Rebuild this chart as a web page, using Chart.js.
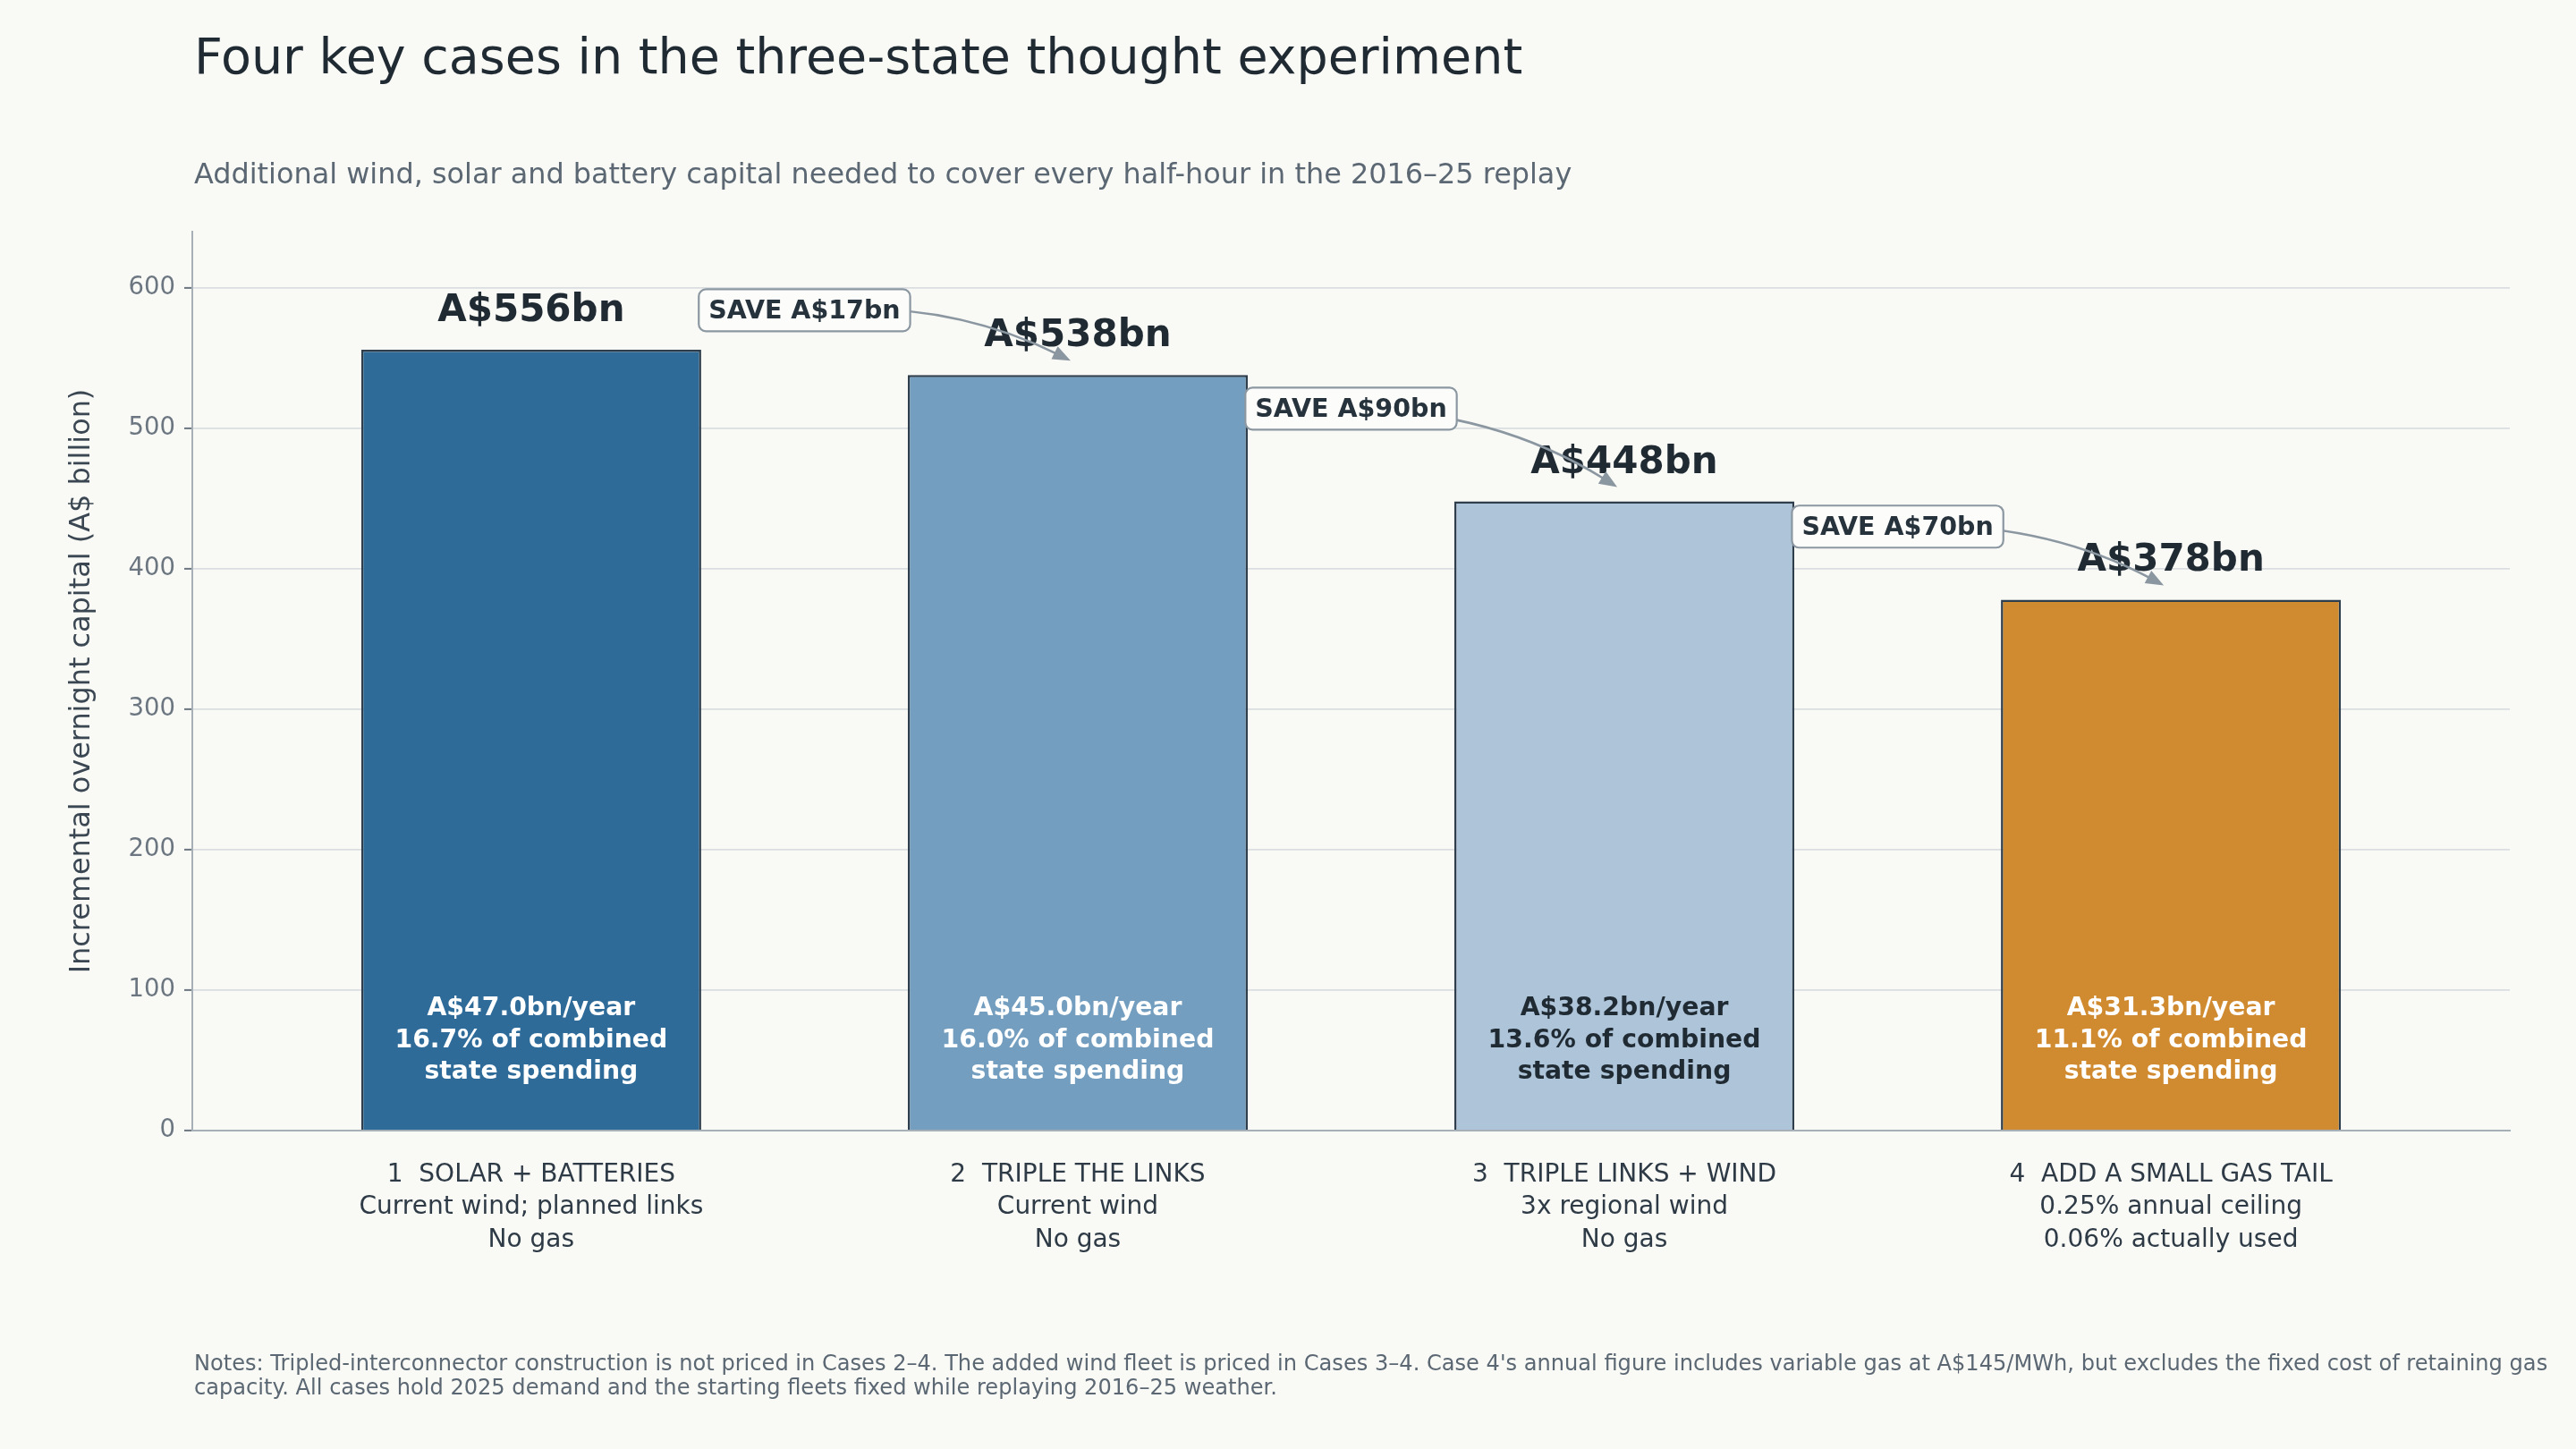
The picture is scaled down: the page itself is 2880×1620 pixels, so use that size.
<!DOCTYPE html>
<html>
<head>
<meta charset="utf-8">
<title>Four key cases in the three-state thought experiment</title>
<script src="https://cdn.jsdelivr.net/npm/chart.js@4.4.1/dist/chart.umd.min.js"></script>
<style>
  html, body { margin: 0; padding: 0; background: #f9f9f5; }
  #wrap { width: 2880px; height: 1620px; }
</style>
</head>
<body>
<div id="wrap"><canvas id="chart" width="2880" height="1620"></canvas></div>
<script>
// Data
const caseNames = ['1  SOLAR + BATTERIES', '2  TRIPLE THE LINKS', '3  TRIPLE LINKS + WIND', '4  ADD A SMALL GAS TAIL'];
const caseLine2 = ['Current wind; planned links', 'Current wind', '3x regional wind', '0.25% annual ceiling'];
const caseLine3 = ['No gas', 'No gas', 'No gas', '0.06% actually used'];
const capitalBn = [556, 538, 448, 378];
const annualBn = ['47.0', '45.0', '38.2', '31.3'];
const spendSharePct = ['16.7', '16.0', '13.6', '11.1'];
const savingsBn = [17, 90, 70];

const TITLE = 'Four key cases in the three-state thought experiment';
const SUBTITLE = 'Additional wind, solar and battery capital needed to cover every half-hour in the 2016\u201325 replay';
const NOTES = [
    'Notes: Tripled-interconnector construction is not priced in Cases 2\u20134. The added wind fleet is priced in Cases 3\u20134. Case 4\'s annual figure includes variable gas at A$145/MWh, but excludes the fixed cost of retaining gas',
    'capacity. All cases hold 2025 demand and the starting fleets fixed while replaying 2016\u201325 weather.'
];

// Styles
const FONT = '"DejaVu Sans", "Liberation Sans", sans-serif';
const barColors = ['#2e6b99', '#739ebf', '#aec4d9', '#d08a2f'];
const insideColors = ['#ffffff', '#ffffff', '#1f2a33', '#ffffff'];
const saveLabelY = [584, 514, 430];   // data-space height of the "SAVE" boxes

function drawArrow(ctx, x0, y0, x1, y1, rad) {
    const dx = x1 - x0, dy = y1 - y0;
    const cx = (x0 + x1) / 2 + rad * dy;
    const cy = (y0 + y1) / 2 - rad * dx;
    let tx = x1 - cx, ty = y1 - cy;
    const len = Math.hypot(tx, ty);
    tx /= len; ty /= len;
    const headLen = 20, headW = 8;
    const bx = x1 - tx * headLen * 0.8, by = y1 - ty * headLen * 0.8;
    ctx.save();
    ctx.strokeStyle = '#8a96a0';
    ctx.fillStyle = '#8a96a0';
    ctx.lineWidth = 2.6;
    ctx.beginPath();
    ctx.moveTo(x0, y0);
    ctx.quadraticCurveTo(cx, cy, bx, by);
    ctx.stroke();
    const hx = x1 - tx * headLen, hy = y1 - ty * headLen;
    ctx.beginPath();
    ctx.moveTo(x1, y1);
    ctx.lineTo(hx - ty * headW, hy + tx * headW);
    ctx.lineTo(hx + ty * headW, hy - tx * headW);
    ctx.closePath();
    ctx.fill();
    ctx.restore();
}

function roundRect(ctx, x, y, w, h, r) {
    ctx.beginPath();
    ctx.moveTo(x + r, y);
    ctx.arcTo(x + w, y, x + w, y + h, r);
    ctx.arcTo(x + w, y + h, x, y + h, r);
    ctx.arcTo(x, y + h, x, y, r);
    ctx.arcTo(x, y, x + w, y, r);
    ctx.closePath();
}

const overlay = {
    id: 'overlay',
    beforeDraw(chart) {
        const ctx = chart.ctx;
        ctx.save();
        ctx.fillStyle = '#f9f9f5';
        ctx.fillRect(0, 0, chart.width, chart.height);
        ctx.restore();
    },
    afterDatasetsDraw(chart) {
        const {ctx, scales: {x, y}} = chart;
        const base = y.getPixelForValue(0);
        ctx.save();
        ctx.textAlign = 'center';
        ctx.textBaseline = 'alphabetic';
        capitalBn.forEach((v, i) => {
            const px = x.getPixelForValue(i);
            ctx.fillStyle = '#1f2a33';
            ctx.font = 'bold 42px ' + FONT;
            ctx.fillText('A$' + v + 'bn', px, y.getPixelForValue(v) - 32);

            ctx.fillStyle = insideColors[i];
            ctx.font = 'bold 28.3px ' + FONT;
            ctx.fillText('A$' + annualBn[i] + 'bn/year', px, base - 129);
            ctx.fillText(spendSharePct[i] + '% of combined', px, base - 93);
            ctx.fillText('state spending', px, base - 58);
        });
        ctx.restore();
    },
    afterDraw(chart) {
        const {ctx, scales: {x, y}} = chart;
        ctx.save();

        // savings call-outs
        savingsBn.forEach((s, i) => {
            const bx = x.getPixelForValue(i + 0.5);
            const by = y.getPixelForValue(saveLabelY[i]);
            const tipX = x.getPixelForValue(i + 1) - 8;
            const tipY = y.getPixelForValue(capitalBn[i + 1]) - 16;
            drawArrow(ctx, bx, by, tipX, tipY, 0.14);

            const label = 'SAVE A$' + s + 'bn';
            ctx.font = 'bold 28.5px ' + FONT;
            const w = ctx.measureText(label).width + 22;
            const h = 47;
            roundRect(ctx, bx - w / 2, by - h / 2, w, h, 8);
            ctx.fillStyle = '#fcfcfa';
            ctx.fill();
            ctx.strokeStyle = '#8b97a1';
            ctx.lineWidth = 2.2;
            ctx.stroke();
            ctx.fillStyle = '#26323c';
            ctx.textAlign = 'center';
            ctx.textBaseline = 'alphabetic';
            ctx.fillText(label, bx, by + 9);
        });

        // titles and notes
        ctx.textAlign = 'left';
        ctx.textBaseline = 'alphabetic';
        ctx.fillStyle = '#1f2a33';
        ctx.font = '55.5px ' + FONT;
        ctx.fillText(TITLE, 217, 82);
        ctx.fillStyle = '#5b6873';
        ctx.font = '31.9px ' + FONT;
        ctx.fillText(SUBTITLE, 217, 205);
        ctx.font = '24.1px ' + FONT;
        ctx.fillText(NOTES[0], 217, 1532);
        ctx.fillText(NOTES[1], 217, 1559);
        ctx.restore();
    }
};

new Chart(document.getElementById('chart'), {
    type: 'bar',
    data: {
        datasets: [{
            data: capitalBn.map((v, i) => ({x: i, y: v})),
            backgroundColor: barColors,
            borderColor: '#2f3e4c',
            borderWidth: 2.5,
            barPercentage: 0.622,
            categoryPercentage: 1
        }]
    },
    options: {
        responsive: false,
        devicePixelRatio: 1,
        animation: false,
        layout: { padding: { top: 259, right: 74, bottom: 156, left: 0 } },
        plugins: {
            legend: { display: false },
            tooltip: { enabled: false }
        },
        scales: {
            x: {
                type: 'linear',
                offset: false,
                min: -0.62,
                max: 3.62,
                afterBuildTicks: scale => { scale.ticks = caseNames.map((_, i) => ({ value: i })); },
                afterFit: scale => { scale.height = 200; },
                grid: { display: false, drawTicks: false, tickLength: 0, offset: false },
                border: { display: true, color: '#a7afb7', width: 2 },
                ticks: {
                    autoSkip: false,
                    maxRotation: 0,
                    padding: 32,
                    color: '#2e3b46',
                    font: { family: FONT, size: 28, lineHeight: 1.29 },
                    callback: (value, index) => [caseNames[index], caseLine2[index], caseLine3[index]]
                }
            },
            y: {
                min: 0,
                max: 640,
                afterFit: scale => { scale.width = 215; },
                grid: { color: '#dadee1', lineWidth: 1.8, tickColor: '#6b7681', tickLength: 9, tickWidth: 2 },
                border: { color: '#a7afb7', width: 2 },
                ticks: {
                    stepSize: 100,
                    includeBounds: false,
                    padding: 10,
                    color: '#6b7681',
                    font: { family: FONT, size: 27.5 }
                },
                title: {
                    display: true,
                    text: 'Incremental overnight capital (A$ billion)',
                    color: '#3a4752',
                    font: { family: FONT, size: 31.9 },
                    padding: { top: 73, bottom: 0 }
                }
            }
        }
    },
    plugins: [overlay]
});
</script>
</body>
</html>
